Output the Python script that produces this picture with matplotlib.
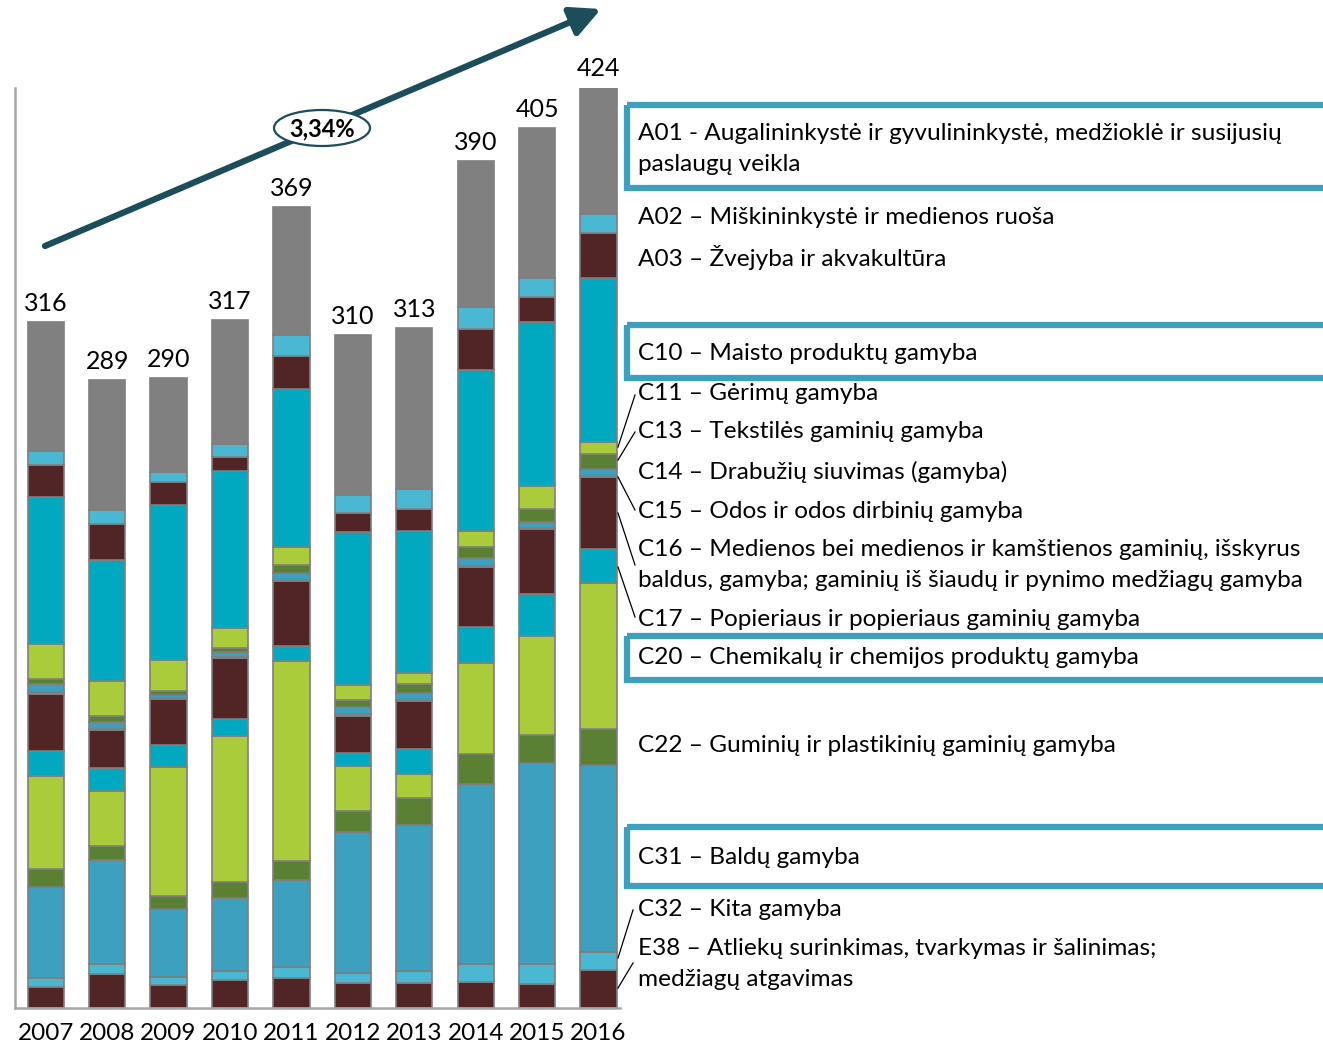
import matplotlib
matplotlib.use("Agg")
import matplotlib.pyplot as plt
from matplotlib.patches import Ellipse, Rectangle
import numpy as np

plt.rcParams['font.family'] = ['Lato', 'DejaVu Sans']

years = ["2007", "2008", "2009", "2010", "2011", "2012", "2013", "2014", "2015", "2016"]

# stacked series, bottom to top
E38 = [9.5, 15.7, 10.6, 12.7, 13.6, 11.3, 11.3, 12.2, 11.0, 17.5]
C32 = [4.4, 4.6, 3.7, 4.4, 5.3, 4.8, 5.8, 8.1, 9.2, 8.3]
C31 = [41.9, 47.7, 31.3, 33.6, 40.1, 64.9, 67.0, 82.9, 92.8, 86.3]
C22 = [8.1, 6.7, 6.0, 7.4, 8.7, 9.9, 12.4, 13.8, 12.7, 16.4]
C20 = [43.0, 25.1, 59.4, 67.0, 92.1, 20.7, 11.3, 41.9, 45.6, 67.2]
C17 = [11.5, 10.6, 9.9, 8.1, 6.9, 6.0, 11.5, 16.6, 19.3, 15.7]
C16 = [26.4, 17.5, 21.4, 28.1, 29.9, 16.8, 21.9, 27.4, 29.8, 33.1]
C15 = [0.5, 0.5, 0.4, 0.5, 0.5, 1.0, 0.8, 0.6, 0.5, 0.5]
C14 = [4.0, 3.2, 1.5, 2.0, 3.0, 3.2, 3.1, 3.8, 3.0, 3.4]
C13 = [2.1, 2.8, 1.8, 2.1, 3.8, 3.2, 4.1, 5.1, 5.8, 6.7]
C11 = [16.4, 16.1, 14.3, 9.0, 8.4, 7.1, 5.1, 7.4, 10.7, 5.5]
C10 = [67.4, 55.9, 71.5, 72.5, 72.9, 70.3, 65.1, 74.1, 75.6, 75.3]
A03 = [14.6, 16.6, 10.6, 6.1, 15.0, 8.7, 10.3, 18.9, 11.5, 21.0]
A02 = [6.6, 6.1, 4.3, 6.2, 9.5, 8.1, 9.2, 9.9, 8.6, 8.7]
A01 = [59.6, 59.9, 43.3, 57.3, 59.3, 74.0, 74.1, 67.3, 68.9, 58.4]

series = [E38, C32, C31, C22, C20, C17, C16, C15, C14, C13, C11, C10, A03, A02, A01]

growth_label = "3,34%"

legend_labels = [
    "A01 - Augalininkystė ir gyvulininkystė, medžioklė ir susijusių\npaslaugų veikla",
    "A02 – Miškininkystė ir medienos ruoša",
    "A03 – Žvejyba ir akvakultūra",
    "C10 – Maisto produktų gamyba",
    "C11 – Gėrimų gamyba",
    "C13 – Tekstilės gaminių gamyba",
    "C14 – Drabužių siuvimas (gamyba)",
    "C15 – Odos ir odos dirbinių gamyba",
    "C16 – Medienos bei medienos ir kamštienos gaminių, išskyrus\nbaldus, gamyba; gaminių iš šiaudų ir pynimo medžiagų gamyba",
    "C17 – Popieriaus ir popieriaus gaminių gamyba",
    "C20 – Chemikalų ir chemijos produktų gamyba",
    "C22 – Guminių ir plastikinių gaminių gamyba",
    "C31 – Baldų gamyba",
    "C32 – Kita gamyba",
    "E38 – Atliekų surinkimas, tvarkymas ir šalinimas;\nmedžiagų atgavimas",
]

GRAY = "#808080"
LBLUE = "#4AB7D3"
MAROON = "#512525"
TEAL = "#00A9BF"
YGREEN = "#AACB3A"
DGREEN = "#5A8034"
SBLUE = "#3DA0BE"
colors = [MAROON, LBLUE, SBLUE, DGREEN, YGREEN, TEAL, MAROON, LBLUE, SBLUE,
          DGREEN, YGREEN, TEAL, MAROON, LBLUE, GRAY]

W, H = 1323, 1045
fig = plt.figure(figsize=(W / 100, H / 100), dpi=100)
ax = fig.add_axes([15 / W, 37 / H, 605 / W, 920 / H])

x = np.arange(len(years))
bottom = np.zeros(len(years))
for vals, c in zip(series, colors):
    v = np.array(vals)
    ax.bar(x, v, bottom=bottom, width=0.59, color=c, edgecolor="#7F7F7F", linewidth=1.2)
    bottom += v

for i, t in enumerate(bottom):
    ax.annotate(f"{int(round(t))}", (x[i], t), xytext=(0, 5), textcoords="offset points",
                ha="center", va="bottom", fontsize=18, color="black", annotation_clip=False)

ax.set_xlim(-0.5, 9.35)
ax.set_ylim(0, 423.6)
ax.set_xticks(x)
ax.set_xticklabels(years, fontsize=17.5)
ax.tick_params(axis="x", length=0, pad=11)
ax.set_yticks([])
for s in ["top", "right"]:
    ax.spines[s].set_visible(False)
for s in ["left", "bottom"]:
    ax.spines[s].set_color("#A6A6A6")
    ax.spines[s].set_linewidth(1.8)

# overlay in pixel coordinates for annotations
ov = fig.add_axes([0, 0, 1, 1], facecolor="none")
ov.set_xlim(0, W)
ov.set_ylim(H, 0)
ov.axis("off")

ARROW = "#1B4D5B"
ov.annotate("", xy=(601, 9), xytext=(45, 246),
            arrowprops=dict(arrowstyle="-|>,head_length=0.9,head_width=0.45", lw=4.5,
                            color=ARROW, shrinkA=0, shrinkB=0, mutation_scale=20))
ov.add_patch(Ellipse((322, 128), 96, 36, facecolor="white", edgecolor=ARROW, lw=1.6, zorder=5))
ov.text(322, 129, growth_label, ha="center", va="center", fontsize=17, fontweight="bold", zorder=6)

# legend text (top to bottom)
BOX = "#3CA0BE"
text_y = [149, 218, 258, 353, 393, 432, 472, 511, 565, 619, 658, 745, 857, 910, 964]
for lab, ty in zip(legend_labels, text_y):
    ov.text(638, ty, lab, ha="left", va="center", fontsize=17.6, linespacing=1.55)

for (y0, y1) in [(105, 188), (325, 378), (636, 680), (827, 886)]:
    ov.add_patch(Rectangle((627, y0), 760, y1 - y0, facecolor="none", edgecolor=BOX, lw=4.5,
                           clip_on=False))

leaders = [((635, 395), (618, 447)), ((635, 432), (618, 460)), ((618, 477), (635, 510)),
           ((618, 513), (635, 565)), ((618, 567), (635, 617)), ((633, 910), (618, 958)),
           ((633, 963), (618, 988))]
for (p0, p1) in leaders:
    ov.plot([p0[0], p1[0]], [p0[1], p1[1]], color="black", lw=0.9)

fig.savefig("out.png", dpi=100)
